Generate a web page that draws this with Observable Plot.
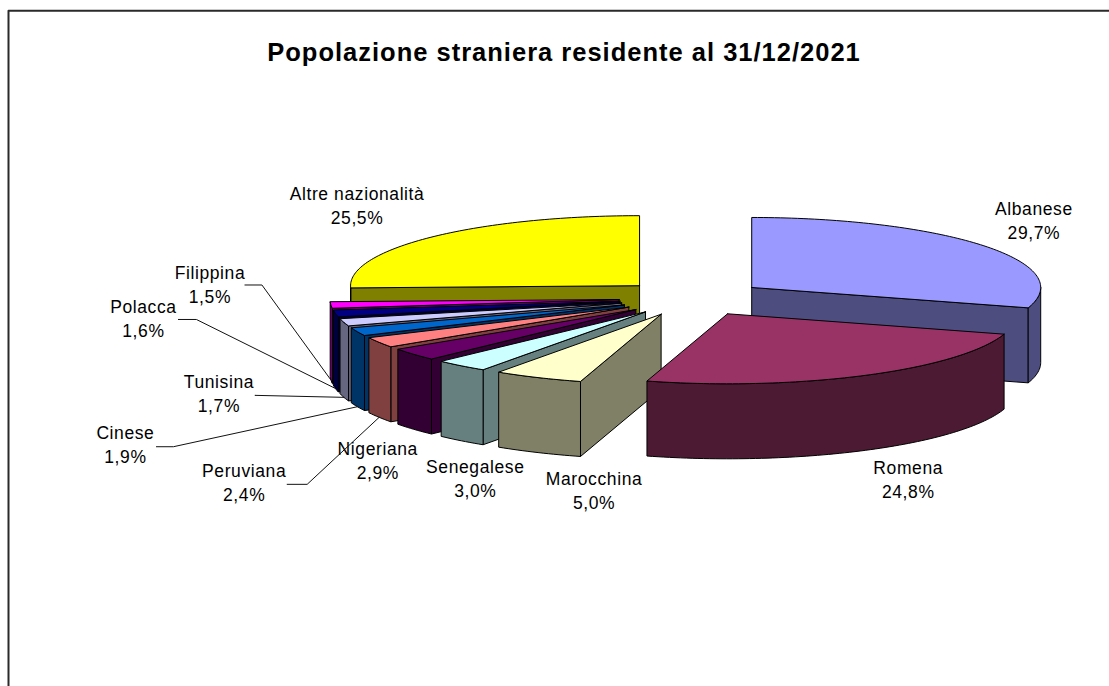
<!DOCTYPE html>
<html lang="it">
<head>
<meta charset="utf-8">
<title>Popolazione straniera residente</title>
<script src="https://cdn.jsdelivr.net/npm/d3@7"></script>
<script src="https://cdn.jsdelivr.net/npm/@observablehq/plot@0.6"></script>
<style>
  html, body { margin: 0; padding: 0; background: #fff; }
  svg { display: block; }
  .etichette, .etichette text { letter-spacing: 0.6px; }
  .titolo, .titolo text { letter-spacing: 1px; }
</style>
</head>
<body>
<div id="chart"></div>
<script>
// Foreign resident population by nationality, clockwise from 12 o'clock.
const nationalities = ["Albanese", "Romena", "Marocchina", "Senegalese", "Nigeriana", "Peruviana", "Cinese", "Tunisina", "Polacca", "Filippina", "Altre nazionalità"];
const shares = [29.7, 24.8, 5.0, 3.0, 2.9, 2.4, 1.9, 1.7, 1.6, 1.5, 25.5];
const topColors = ["#9999FF", "#993366", "#FFFFCC", "#CCFFFF", "#660066", "#FF8080", "#0066CC", "#CCCCFF", "#000080", "#FF00FF", "#FFFF00"];
const sideColors = ["#4D4D80", "#4D1A33", "#808066", "#668080", "#330033", "#804040", "#003366", "#666680", "#000040", "#800080", "#808000"];
// Slices are painted from the back of the pie to the front.
const paintOrder = [10, 0, 9, 8, 7, 6, 5, 4, 3, 2, 1];

// Label block centre, as an offset from the slice's rim midpoint.
const labelOffsets = [[50, -26], [43, 103], [56, 112], [14, 112], [-36, 105], [-135, 139], [-232, 112], [-125, 70], [-192, 4], [-121, -22], [-75, -33]];
// Leader line start and elbow, relative to the label centre (small slices only).
const leaderOffsets = {Peruviana: [43, 63, 3], Cinese: [31, 48, 3], Tunisina: [36, 36, 3], Polacca: [35, 53, 2], Filippina: [35, 52, 2]};

const W = 1109, H = 686;
const cx = 692, cy = 297.6, rx = 289, ry = 70, depth = 75, explode = 0.255;

const rad = (pct) => (pct / 100) * 2 * Math.PI;
const fmt = (v) => v.toFixed(1).replace(".", ",") + "%";

let running = 0;
const slices = shares.map((v, i) => {
  const start = running;
  running += v;
  const mid = rad(start + v / 2);
  const ax = cx + explode * rx * Math.sin(mid);
  const ay = cy - explode * ry * Math.cos(mid);
  const at = (a, r = 1) => [ax + r * rx * Math.sin(a), ay - r * ry * Math.cos(a)];
  return {i, name: nationalities[i], v, a0: rad(start), a1: rad(running), mid, ax, ay, at};
});

function arcPoints(s, a0, a1) {
  const n = Math.max(2, Math.ceil((a1 - a0) / 0.02));
  return d3.range(n + 1).map((k) => s.at(a0 + ((a1 - a0) * k) / n));
}

// Flat table of polygon vertices: radial walls, outer wall, top face.
const faces = [];
function addFace(id, color, pts) {
  [...pts, pts[0]].forEach(([x, y]) => faces.push({id, color, x, y}));
}
paintOrder.forEach((idx) => {
  const s = slices[idx];
  const radialWall = (a, tag) => {
    const [x, y] = s.at(a);
    addFace(`${idx}-${tag}`, sideColors[idx], [[s.ax, s.ay], [x, y], [x, y + depth], [s.ax, s.ay + depth]]);
  };
  if (s.a0 > Math.PI && s.a0 < 2 * Math.PI) radialWall(s.a0, "start");
  if (s.a1 > 0 && s.a1 < Math.PI) radialWall(s.a1, "end");
  const lo = Math.max(s.a0, Math.PI / 2), hi = Math.min(s.a1, (3 * Math.PI) / 2);
  if (hi > lo) {
    const rim = arcPoints(s, lo, hi);
    addFace(`${idx}-rim`, sideColors[idx], [...rim, ...rim.slice().reverse().map(([x, y]) => [x, y + depth])]);
  }
  addFace(`${idx}-top`, topColors[idx], [[s.ax, s.ay], ...arcPoints(s, s.a0, s.a1)]);
});

// Labels and their leader lines, anchored on each slice's rim midpoint.
const labels = slices.map((s) => {
  const [mx, my] = s.at(s.mid);
  const [ox, oy] = labelOffsets[s.i];
  return {name: s.name, text: `${s.name}\n${fmt(s.v)}`, x: mx + ox, y: my + oy, rimX: mx, rimY: my + depth};
});
const leaders = labels.flatMap((l) => {
  const o = leaderOffsets[l.name];
  if (!o) return [];
  const ly = l.y + o[2];
  return [[l.x + o[0], ly], [l.x + o[1], ly], [l.rimX, l.rimY]].map(([x, y]) => ({name: l.name, x, y}));
});

// Chart border: only the left and top edges fall inside the page.
const border = [{x: 8, y: H}, {x: 8, y: 10.3}, {x: W, y: 10.3}];

const plot = Plot.plot({
  width: W,
  height: H,
  margin: 0,
  style: {background: "#fff", fontFamily: "'Liberation Sans', Arial, sans-serif"},
  x: {domain: [0, W], range: [0, W], axis: null},
  y: {domain: [0, H], range: [0, H], axis: null},
  marks: [
    Plot.line(border, {x: "x", y: "y", stroke: "#2a2a2a", strokeWidth: 2}),
    Plot.line(faces, {x: "x", y: "y", z: "id", fill: "color", stroke: "#000", strokeWidth: 1, strokeLinejoin: "round"}),
    Plot.line(leaders, {x: "x", y: "y", z: "name", stroke: "#111", strokeWidth: 1}),
    Plot.text(labels, {x: "x", y: "y", text: "text", fontSize: 17.5, lineHeight: 1.37, fill: "#000", textAnchor: "middle", lineAnchor: "middle", className: "etichette"}),
    Plot.text(["Popolazione straniera residente al 31/12/2021"], {x: () => 563.5, y: () => 52, text: (d) => d, fontSize: 25.5, fontWeight: "bold", fill: "#000", textAnchor: "middle", lineAnchor: "middle", className: "titolo"})
  ]
});
document.getElementById("chart").appendChild(plot);
</script>
</body>
</html>
